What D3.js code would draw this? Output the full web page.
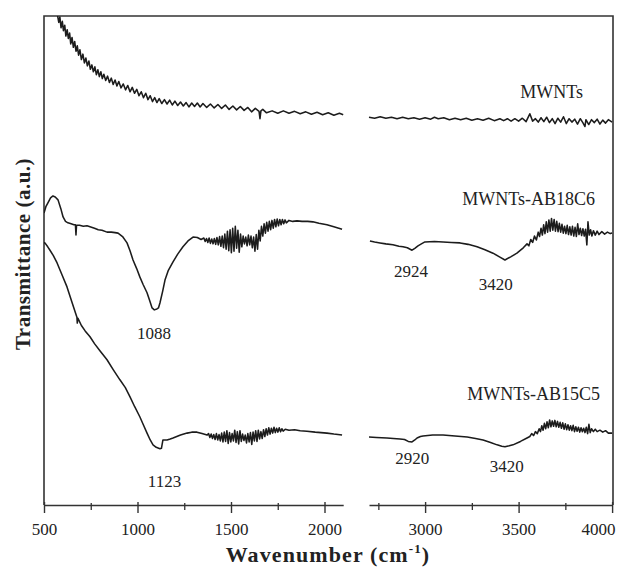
<!DOCTYPE html>
<html>
<head>
<meta charset="utf-8">
<script src="https://cdn.jsdelivr.net/npm/d3@7"></script>
<style>
  html, body { margin: 0; padding: 0; background: #fff; }
  svg { display: block; }
  text { font-family: "Liberation Serif", "Times New Roman", serif; fill: #222; }
</style>
</head>
<body>
<svg id="chart" width="622" height="569"></svg>
<script>
// ---- Data (wavenumber cm-1, transmittance a.u.) ----
const majorTicksLeft = [500, 1000, 1500, 2000];
const minorTicksLeft = [750, 1250, 1750];
const majorTicksRight = [3000, 3500, 4000];
const minorTicksRight = [2750, 3250, 3750];
const seriesNames = ["MWNTs", "MWNTs-AB18C6", "MWNTs-AB15C5"];

const mwntsLow = [
[572,100.2],[579,98.7],[585,99.8],[591,97.6],[598,98.9],[604,97.0],[611,98.1],[617,95.9],[624,97.2],[630,95.4],
[637,96.5],[643,94.3],[650,95.6],[657,93.6],[664,94.8],[671,92.8],[678,93.9],[685,92.0],[692,93.1],[700,91.1],
[708,92.2],[716,90.4],[724,91.4],[732,89.8],[740,90.8],[748,89.1],[756,90.0],[764,88.6],[772,89.6],[780,88.0],
[788,89.0],[796,87.6],[804,88.6],[812,87.2],[820,88.1],[830,86.8],[840,87.7],[850,86.4],[860,87.3],[870,86.0],
[880,86.9],[890,85.7],[900,86.6],[912,85.3],[924,86.1],[936,84.9],[948,85.8],[960,84.5],[972,85.4],[984,84.2],
[996,85.0],[1008,83.7],[1020,84.5],[1032,83.3],[1044,84.2],[1056,82.9],[1068,83.7],[1080,82.5],[1092,83.3],[1104,82.3],
[1116,83.1],[1130,82.1],[1144,82.9],[1158,82.0],[1172,82.8],[1186,81.8],[1200,82.6],[1215,81.7],[1230,82.4],[1245,81.6],
[1260,82.3],[1275,81.4],[1290,82.2],[1305,81.5],[1320,82.2],[1335,81.4],[1350,82.1],[1370,81.3],[1390,82.0],[1410,81.2],
[1430,81.9],[1450,81.1],[1470,81.8],[1490,80.9],[1510,81.6],[1530,80.8],[1550,81.5],[1570,80.7],[1590,81.3],[1610,80.4],
[1630,81.1],[1650,80.5],[1655,79.0],[1660,80.6],[1670,80.9],[1690,80.2],[1720,80.6],[1750,80.1],[1780,80.6],[1810,80.1],
[1840,80.5],[1870,80.0],[1900,80.4],[1930,79.9],[1960,80.3],[1990,79.8],[2020,80.2],[2050,79.7],[2080,80.1],[2100,79.8]
];
const mwntsHigh = [
[2700,79.3],[2730,79.1],[2760,79.4],[2790,79.1],[2820,79.3],[2850,79.0],[2880,79.3],[2910,79.0],[2940,79.2],[2970,78.9],
[3000,79.2],[3030,78.9],[3050,79.3],[3070,79.0],[3100,79.2],[3130,78.8],[3160,79.1],[3190,78.8],[3220,79.1],[3250,78.7],
[3280,79.0],[3310,78.7],[3340,79.1],[3370,78.6],[3400,79.0],[3420,78.6],[3440,79.0],[3460,78.5],[3480,79.0],[3500,78.5],
[3520,79.1],[3540,78.4],[3560,80.0],[3575,78.5],[3590,79.0],[3605,78.3],[3620,79.2],[3635,78.4],[3650,79.3],[3665,78.2],
[3680,79.0],[3695,78.0],[3710,79.1],[3725,78.3],[3740,79.4],[3755,78.0],[3770,79.0],[3785,78.3],[3800,78.9],[3815,77.9],
[3830,79.0],[3845,78.1],[3855,77.4],[3860,78.8],[3875,77.8],[3890,78.8],[3905,78.2],[3920,78.9],[3935,77.9],[3950,78.7],
[3965,78.1],[3980,78.8],[4000,78.3]
];

const ab18Low = [
[500,59.7],[510,61.0],[521,61.8],[535,62.8],[548,63.2],[560,63.0],[575,62.4],[590,60.6],[602,58.9],[615,58.0],
[628,57.7],[645,57.5],[660,57.3],[668,57.3],[671,55.2],[674,57.2],[690,57.2],[710,57.0],[730,57.1],[746,56.9],
[770,56.6],[790,56.3],[810,56.2],[837,55.8],[860,55.8],[880,55.7],[896,55.6],[920,54.9],[944,53.6],[960,52.0],
[976,50.1],[995,48.4],[1013,46.6],[1030,45.1],[1051,43.4],[1065,41.8],[1078,40.3],[1090,39.9],[1104,40.1],[1112,40.3],
[1120,41.3],[1135,43.8],[1147,46.0],[1165,48.0],[1190,49.7],[1215,51.3],[1243,52.8],[1270,54.0],[1297,54.8],[1320,54.7],
[1340,54.3],[1355,54.6],[1362,53.9],[1369,54.5],[1376,53.7],[1383,54.6],[1390,53.5],[1397,54.4],[1404,53.4],[1411,54.5],
[1418,53.3],[1425,54.7],[1432,53.2],[1439,54.9],[1446,52.9],[1453,55.0],[1460,52.6],[1467,55.4],[1474,52.3],[1481,56.0],
[1488,52.0],[1495,56.3],[1502,51.6],[1509,56.6],[1516,51.9],[1523,57.0],[1530,52.5],[1537,56.2],[1544,51.7],[1551,55.4],
[1558,52.8],[1565,55.0],[1572,53.4],[1579,54.8],[1586,53.0],[1593,55.2],[1600,53.2],[1607,55.0],[1614,52.6],[1621,54.8],
[1628,51.9],[1635,55.3],[1642,52.3],[1649,56.2],[1656,54.0],[1663,57.0],[1670,55.0],[1677,57.5],[1684,55.6],[1691,57.8],
[1698,56.0],[1705,58.0],[1712,56.3],[1719,58.2],[1726,56.6],[1733,58.4],[1740,56.9],[1747,58.5],[1754,57.1],[1761,58.4],
[1768,57.3],[1775,58.4],[1782,57.5],[1789,58.3],[1796,57.7],[1810,58.2],[1830,58.0],[1853,58.1],[1880,58.0],[1910,58.0],
[1938,57.9],[1970,57.6],[2013,57.3],[2050,56.9],[2094,56.4]
];
const ab18High = [
[2705,54.0],[2730,53.8],[2759,53.6],[2790,53.4],[2828,53.2],[2860,52.9],[2882,52.8],[2905,52.6],[2930,52.1],[2945,52.5],
[2962,53.0],[2980,53.4],[2999,53.8],[3050,53.9],[3096,53.8],[3140,53.7],[3187,53.6],[3230,53.3],[3278,52.8],[3320,52.2],
[3363,51.5],[3400,50.7],[3427,50.1],[3460,50.8],[3491,51.5],[3525,52.6],[3545,53.4],[3555,53.0],[3565,54.3],[3575,53.7],
[3585,55.0],[3595,54.2],[3605,55.8],[3612,54.9],[3620,56.6],[3627,55.2],[3634,57.3],[3641,55.5],[3648,57.9],[3655,55.8],
[3662,58.3],[3669,56.0],[3676,58.6],[3683,56.2],[3690,58.4],[3697,56.0],[3704,58.0],[3711,55.9],[3718,57.6],[3725,55.8],
[3732,57.4],[3739,55.6],[3746,57.0],[3753,55.5],[3760,57.2],[3767,55.3],[3774,56.9],[3781,55.2],[3788,57.0],[3795,55.0],
[3802,56.8],[3809,54.9],[3816,57.5],[3823,55.3],[3830,56.6],[3837,55.1],[3844,56.5],[3851,55.0],[3858,56.4],[3865,53.2],
[3871,57.9],[3878,55.2],[3885,56.3],[3892,55.0],[3900,56.1],[3910,55.2],[3920,56.0],[3930,55.3],[3945,55.9],[3960,55.4],
[3975,55.8],[3990,55.5],[4000,55.6]
];

const ab15Low = [
[500,53.6],[505,53.6],[520,52.8],[532,52.1],[550,51.0],[570,49.5],[595,47.2],[623,44.6],[650,41.4],[676,38.4],
[678,37.2],[681,38.2],[700,36.7],[720,35.6],[746,34.4],[770,33.0],[800,31.5],[837,29.7],[870,27.7],[906,25.6],
[935,24.0],[960,22.1],[985,20.1],[1013,18.0],[1030,16.5],[1051,14.7],[1068,13.3],[1083,12.3],[1100,11.8],[1120,11.5],
[1128,11.6],[1136,13.3],[1150,13.3],[1158,13.3],[1175,13.5],[1190,13.7],[1230,14.3],[1265,14.7],[1290,14.9],[1318,14.9],
[1345,14.6],[1372,14.3],[1380,14.6],[1387,13.8],[1394,14.5],[1401,13.6],[1408,14.4],[1415,13.4],[1422,14.6],[1429,13.3],
[1436,14.4],[1443,13.1],[1450,14.7],[1457,12.9],[1464,14.9],[1471,13.0],[1478,15.2],[1485,12.6],[1492,14.8],[1499,12.9],
[1506,14.6],[1513,13.1],[1520,15.3],[1527,12.8],[1534,15.0],[1541,12.5],[1548,15.2],[1555,13.0],[1562,14.5],[1569,13.2],
[1576,14.3],[1583,12.7],[1590,14.6],[1597,12.9],[1604,14.8],[1611,12.4],[1618,14.9],[1625,13.1],[1632,15.2],[1639,13.0],
[1646,15.3],[1653,13.5],[1660,15.0],[1667,13.6],[1674,15.4],[1681,14.0],[1688,15.6],[1695,14.3],[1702,15.8],[1709,14.5],
[1716,15.7],[1723,14.7],[1730,15.9],[1737,14.8],[1744,15.7],[1751,14.9],[1758,15.8],[1765,15.0],[1772,15.6],[1779,15.1],
[1790,15.5],[1810,15.3],[1840,15.4],[1870,15.2],[1906,15.1],[1950,14.9],[2013,14.7],[2050,14.5],[2094,14.3]
];
const ab15High = [
[2700,13.9],[2740,13.8],[2796,13.7],[2830,13.6],[2866,13.5],[2890,13.4],[2910,13.0],[2930,12.9],[2945,13.3],[2957,13.7],
[2975,14.0],[2989,14.1],[3040,14.3],[3096,14.3],[3160,14.1],[3225,13.9],[3270,13.6],[3310,13.3],[3350,12.8],[3385,12.3],
[3410,12.0],[3427,11.9],[3450,12.1],[3470,12.3],[3510,13.0],[3545,13.7],[3560,14.0],[3570,14.6],[3580,14.2],[3590,15.0],
[3600,14.6],[3610,15.6],[3617,15.0],[3624,16.2],[3631,15.3],[3638,16.7],[3645,15.6],[3652,17.0],[3659,15.8],[3666,17.4],
[3673,16.0],[3680,17.2],[3687,16.1],[3694,17.3],[3701,16.0],[3708,17.1],[3715,15.9],[3722,16.9],[3729,15.7],[3736,16.8],
[3743,15.5],[3750,16.6],[3757,15.4],[3764,16.4],[3771,15.3],[3778,16.2],[3785,15.2],[3792,16.3],[3799,15.0],[3806,16.0],
[3813,15.1],[3820,15.9],[3827,14.9],[3834,15.8],[3841,15.0],[3848,15.7],[3855,14.8],[3862,15.9],[3869,14.6],[3876,16.5],
[3883,14.8],[3890,15.6],[3900,15.0],[3910,15.5],[3920,15.0],[3935,15.3],[3950,14.9],[3965,15.2],[3980,14.7],[4000,14.7]
];

// peak annotations: [label, series index, wavenumber]
const peakLabels = [["1088", 1, 1088], ["1123", 2, 1123], ["2924", 1, 2924], ["3420", 1, 3420], ["2920", 2, 2920], ["3420", 2, 3420]];

// ---- Layout ----
const svg = d3.select("#chart");
const pLeft = 44, pRight = 613, pTop = 16, pBottom = 505;
const breakL = 343.2, breakR = 369;

const xL = d3.scaleLinear().domain([500, 2100]).range([pLeft, breakL]);
const xR = d3.scaleLinear().domain([2700, 4000]).range([breakR, pRight - 0.9]);
const yS = d3.scaleLinear().domain([0, 100]).range([pBottom, pTop]);
const xOf = wn => wn <= 2100 ? xL(wn) : xR(wn);

svg.append("rect").attr("width", 622).attr("height", 569).attr("fill", "#fff");

svg.append("defs").append("clipPath").attr("id", "plotclip")
  .append("rect").attr("x", pLeft).attr("y", pTop).attr("width", pRight - pLeft).attr("height", pBottom - pTop);

const ink = "#1c1c1c";

// frame (left, top, right)
svg.append("path")
  .attr("d", `M${pLeft},${pBottom}V${pTop}H${pRight}V${pBottom}`)
  .attr("fill", "none").attr("stroke", "#333").attr("stroke-width", 1.6);

// lines
const lineL = d3.line().x(d => xL(d[0])).y(d => yS(d[1]));
const lineR = d3.line().x(d => xR(d[0])).y(d => yS(d[1]));
const g = svg.append("g").attr("clip-path", "url(#plotclip)");
[[mwntsLow, lineL], [mwntsHigh, lineR], [ab18Low, lineL], [ab18High, lineR], [ab15Low, lineL], [ab15High, lineR]]
  .forEach(([data, ln]) => {
    g.append("path").datum(data).attr("d", ln)
      .attr("fill", "none").attr("stroke", ink).attr("stroke-width", 1.55)
      .attr("stroke-linejoin", "round");
  });

// axes
function drawAxis(scale, majors, minors) {
  const ax = svg.append("g").attr("transform", `translate(0,${pBottom})`);
  ax.call(d3.axisBottom(scale).tickValues(majors).tickSize(8).tickSizeOuter(0).tickFormat(d3.format("d")));
  ax.select(".domain").attr("stroke", "#333").attr("stroke-width", 1.6);
  ax.selectAll(".tick line").attr("stroke", "#333").attr("stroke-width", 1.4).attr("y1", -3);
  ax.selectAll(".tick text").attr("y", 30).attr("dy", 0)
    .style("font-family", '"Liberation Serif", serif').style("font-size", "17px").attr("fill", "#222");
  const mn = svg.append("g").attr("transform", `translate(0,${pBottom})`);
  mn.call(d3.axisBottom(scale).tickValues(minors).tickSize(5).tickFormat(""));
  mn.select(".domain").remove();
  mn.selectAll(".tick line").attr("stroke", "#333").attr("stroke-width", 1.3).attr("y1", -2);
  return ax;
}
drawAxis(xL, majorTicksLeft, minorTicksLeft);
const axR = drawAxis(xR, majorTicksRight, minorTicksRight);
axR.selectAll(".tick text").filter(d => d === 4000).attr("x", -14);

// series labels
const nameY = [98, 205, 400];
const nameX = [583, 595, 600];
seriesNames.forEach((n, i) => {
  svg.append("text").attr("x", nameX[i]).attr("y", nameY[i]).attr("text-anchor", "end")
    .style("font-size", "18px").text(n);
});

// peak labels
const allSeries = [[mwntsLow, mwntsHigh], [ab18Low, ab18High], [ab15Low, ab15High]];
const peakDy = [29, 38, 27, 30, 22, 25];
const peakDx = [0, 4, 0, -8, 2, 3];
peakLabels.forEach(([lab, si, wn], i) => {
  const seg = wn <= 2100 ? allSeries[si][0] : allSeries[si][1];
  const near = seg.filter(d => Math.abs(d[0] - wn) < 40);
  const vmin = d3.min(near, d => d[1]);
  svg.append("text").attr("x", xOf(wn) + peakDx[i]).attr("y", yS(vmin) + peakDy[i])
    .attr("text-anchor", "middle").style("font-size", "17px").text(lab);
});

// axis titles
const xt = svg.append("text").attr("x", 328).attr("y", 562).attr("text-anchor", "middle")
  .style("font-size", "22px").style("font-weight", "bold").style("letter-spacing", "1.1px");
xt.append("tspan").text("Wavenumber (cm");
xt.append("tspan").attr("dy", -9).style("font-size", "13px").text("-1");
xt.append("tspan").attr("dy", 9).text(")");

svg.append("text").attr("transform", "translate(30,254) rotate(-90)").attr("text-anchor", "middle")
  .style("font-size", "21px").style("font-weight", "bold").style("letter-spacing", "0.5px")
  .text("Transmittance (a.u.)");
</script>
</body>
</html>
